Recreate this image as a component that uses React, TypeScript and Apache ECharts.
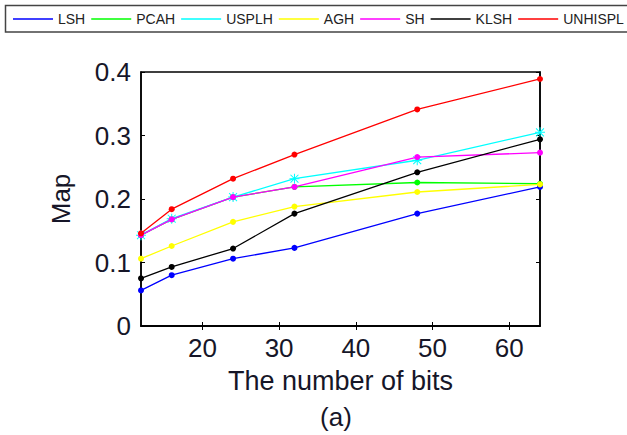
import React, { useEffect, useRef } from "react";
import * as echarts from "echarts";

const bits = [12, 16, 24, 32, 48, 64];
const seriesNames = ["LSH", "PCAH", "USPLH", "AGH", "SH", "KLSH", "UNHISPL"];
const seriesColors = ["#0000ff", "#00ff00", "#00ffff", "#ffff00", "#ff00ff", "#000000", "#ff0000"];
const lsh = [0.056, 0.08, 0.106, 0.123, 0.177, 0.219];
const pcah = [0.143, 0.168, 0.203, 0.219, 0.226, 0.224];
const usplh = [0.143, 0.169, 0.203, 0.232, 0.261, 0.305];
const agh = [0.106, 0.126, 0.164, 0.188, 0.211, 0.223];
const sh = [0.143, 0.168, 0.203, 0.219, 0.266, 0.273];
const klsh = [0.075, 0.093, 0.122, 0.177, 0.242, 0.294];
const unhispl = [0.146, 0.184, 0.232, 0.27, 0.341, 0.389];
const xTicks = [20, 30, 40, 50, 60];
const yTicks = [0, 0.1, 0.2, 0.3, 0.4];

const allValues = [lsh, pcah, usplh, agh, sh, klsh, unhispl];

const asterisk =
  "path://M0,9 L20,9 L20,11 L0,11 Z M9,0 L11,0 L11,20 L9,20 Z M1.4,2.8 L2.8,1.4 L18.6,17.2 L17.2,18.6 Z M17.2,1.4 L18.6,2.8 L2.8,18.6 L1.4,17.2 Z";

const FONT = "'Liberation Sans', Arial, sans-serif";
const TEXT = "#161628";

export default function App() {
  const ref = useRef<HTMLDivElement>(null);
  useEffect(() => {
    if (!ref.current) return;
    const chart = echarts.init(ref.current, null, { renderer: "svg" });
    const series = seriesNames.map((name, i) => ({
      name,
      type: "line",
      data: bits.map((b, j) => [b, allValues[i][j]]),
      symbol: name === "USPLH" ? asterisk : "circle",
      symbolSize: name === "USPLH" ? 10 : 6,
      lineStyle: { color: seriesColors[i], width: 1.3 },
      itemStyle: { color: seriesColors[i] },
      z: 2 + i,
    }));
    const tickStyle = { show: true, inside: true, length: 4, lineStyle: { color: "#000", width: 1 } };
    chart.setOption({
      animation: false,
      backgroundColor: "#fff",
      textStyle: { fontFamily: FONT },
      legend: {
        data: seriesNames,
        left: 13,
        top: 12,
        width: 700,
        padding: 0,
        icon: "rect",
        itemWidth: 40,
        itemHeight: 1.5,
        itemGap: 6,
        textStyle: {
          fontFamily: FONT,
          fontSize: 14,
          color: "#222",
          padding: [0, 0, 0, 0],
        },
      },
      graphic: [
        {
          type: "rect",
          shape: { x: 5.5, y: 5.5, width: 640, height: 26.5 },
          style: { fill: "none", stroke: "#444", lineWidth: 1.5 },
          silent: true,
        },
        {
          type: "text",
          x: 336,
          y: 417,
          style: {
            text: "(a)",
            fontSize: 26,
            fontFamily: FONT,
            fill: TEXT,
            textAlign: "center",
            textVerticalAlign: "middle",
          },
        },
      ],
      grid: { left: 141, top: 72, width: 399, height: 254, show: true, borderColor: "#000", borderWidth: 1.5, backgroundColor: "transparent" },
      xAxis: [
        {
          type: "value",
          min: 12,
          max: 64,
          name: "The number of bits",
          nameLocation: "middle",
          nameGap: 41,
          nameTextStyle: { fontSize: 27, color: TEXT, fontFamily: FONT, verticalAlign: "top" },
          axisLine: { show: true, lineStyle: { color: "#000", width: 1.5 } },
          axisTick: { ...tickStyle, customValues: xTicks },
          axisLabel: { customValues: xTicks, fontSize: 26, color: TEXT, margin: 9, fontFamily: FONT },
          splitLine: { show: false },
        },
        {
          type: "value",
          min: 12,
          max: 64,
          position: "top",
          axisLine: { show: true, lineStyle: { color: "#000", width: 1.5 } },
          axisTick: { ...tickStyle, customValues: xTicks },
          axisLabel: { show: false },
          splitLine: { show: false },
        },
      ],
      yAxis: [
        {
          type: "value",
          min: 0,
          max: 0.4,
          interval: 0.1,
          name: "Map",
          nameLocation: "middle",
          nameGap: 67,
          nameTextStyle: { fontSize: 26, color: TEXT, fontFamily: FONT },
          axisLine: { show: true, lineStyle: { color: "#000", width: 1.5 } },
          axisTick: { ...tickStyle, customValues: yTicks },
          axisLabel: { customValues: yTicks, fontSize: 26, color: TEXT, margin: 10, fontFamily: FONT },
          splitLine: { show: false },
        },
        {
          type: "value",
          min: 0,
          max: 0.4,
          interval: 0.1,
          position: "right",
          axisLine: { show: true, lineStyle: { color: "#000", width: 1.5 } },
          axisTick: { ...tickStyle, customValues: yTicks },
          axisLabel: { show: false },
          splitLine: { show: false },
        },
      ],
      series,
    });
    return () => chart.dispose();
  }, []);
  return (
    <div
      ref={ref}
      style={{ position: "fixed", left: 0, top: 0, width: 627, height: 435 }}
    />
  );
}
